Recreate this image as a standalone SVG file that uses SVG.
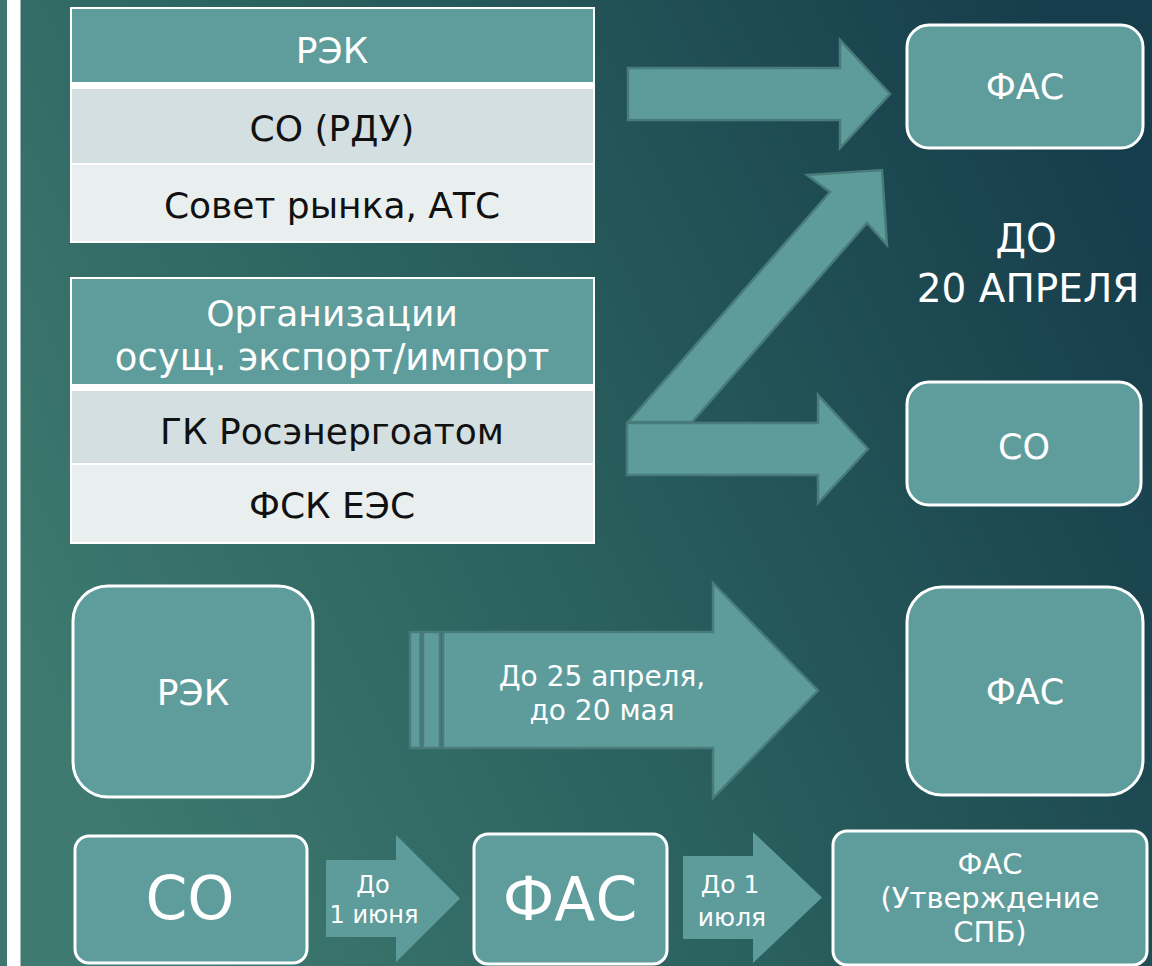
<svg xmlns="http://www.w3.org/2000/svg" width="1152" height="966" viewBox="0 0 1152 966">
<defs>
<linearGradient id="bg" x1="0" y1="0.65" x2="1" y2="0.25">
<stop offset="0" stop-color="#3e7a70"/>
<stop offset="0.45" stop-color="#2a605e"/>
<stop offset="1" stop-color="#163d4b"/>
</linearGradient>
<style>
.t{font-family:"DejaVu Sans","Liberation Sans",sans-serif;text-anchor:middle}
.w{fill:#ffffff}
.k{fill:#111111}
.box{fill:#5f9d9d;stroke:#ffffff;stroke-width:3}
.arr{fill:#5e9c9c;stroke:#4a7b7b;stroke-width:2.5;stroke-linejoin:miter}
.arrs{fill:#5e9c9c}
.hdr{fill:#5f9c9c}
.r2{fill:#d3dfe0}
.r3{fill:#e9efef}
</style>
</defs>
<rect width="1152" height="966" fill="url(#bg)"/>
<rect x="0" y="0" width="7" height="966" fill="#3c766f"/>
<rect x="7" y="0" width="13.5" height="966" fill="#ffffff"/>

<g id="connectors">
<polygon class="arr" points="628,68 840,68 840,40 890,94 840,148 840,120 628,120"/>
<polygon class="arr" points="628,422 830,192 807,175 882,170 887,245 867,223 692,422"/>
<polygon class="arr" points="627,423 818,423 818,395 868,449 818,503 818,475 627,475"/>
<g id="arrow-big">
<rect class="arr" x="410" y="632" width="10.5" height="116"/>
<rect class="arr" x="423" y="632" width="17" height="116"/>
<polygon class="arr" points="443,632 713,632 713,583 818,690.5 713,798 713,748 443,748"/>
<text class="t w" x="602" y="686" font-size="28">До 25 апреля,</text>
<text class="t w" x="602" y="720" font-size="28">до 20 мая</text>
</g>
<g id="arrow-jun">
<polygon class="arrs" points="326,860 396,860 396,835 460,898.5 396,962 396,937 326,937"/>
<text class="t w" x="373" y="893" font-size="24">До</text>
<text class="t w" x="374" y="923" font-size="24">1 июня</text>
</g>
<g id="arrow-jul">
<polygon class="arrs" points="683,856 753,856 753,832 822,897.5 753,963 753,939 683,939"/>
<text class="t w" x="730" y="893" font-size="25">До 1</text>
<text class="t w" x="732" y="926" font-size="25">июля</text>
</g>
</g>

<g id="table1">
<rect x="70" y="7" width="525" height="236" fill="#ffffff"/>
<rect class="hdr" x="72" y="9" width="521" height="73"/>
<rect class="r2" x="72" y="89" width="521" height="74"/>
<rect class="r3" x="72" y="165" width="521" height="76"/>
<text class="t w" x="332" y="63" font-size="36">РЭК</text>
<text class="t k" x="332" y="141" font-size="36">СО (РДУ)</text>
<text class="t k" x="332" y="218" font-size="36">Совет рынка, АТС</text>
</g>

<g id="table2">
<rect x="70" y="277" width="525" height="267" fill="#ffffff"/>
<rect class="hdr" x="72" y="279" width="521" height="105"/>
<rect class="r2" x="72" y="391" width="521" height="72"/>
<rect class="r3" x="72" y="465" width="521" height="77"/>
<text class="t w" x="332" y="326" font-size="36">Организации</text>
<text class="t w" x="332" y="370" font-size="37">осущ. экспорт/импорт</text>
<text class="t k" x="332" y="444" font-size="36">ГК Росэнергоатом</text>
<text class="t k" x="332" y="518" font-size="36">ФСК ЕЭС</text>
</g>

<g id="fas-top">
<rect class="box" x="907" y="25" width="236" height="123" rx="22"/>
<text class="t w" x="1025" y="99" font-size="35">ФАС</text>
</g>

<g id="label-april">
<text class="t w" x="1026" y="252" font-size="39">ДО</text>
<text class="t w" x="1028" y="302" font-size="39">20 АПРЕЛЯ</text>
</g>

<g id="so-mid">
<rect class="box" x="907" y="382" width="234" height="123" rx="22"/>
<text class="t w" x="1024" y="459" font-size="35">СО</text>
</g>

<g id="rek-big">
<rect class="box" x="73" y="586" width="240" height="211" rx="35"/>
<text class="t w" x="193" y="705" font-size="36">РЭК</text>
</g>

<g id="fas-big">
<rect class="box" x="907" y="587" width="236" height="208" rx="35"/>
<text class="t w" x="1025" y="704" font-size="35">ФАС</text>
</g>

<g id="so-bottom">
<rect class="box" x="75" y="836" width="232" height="127" rx="14"/>
<text class="t w" x="190" y="919" font-size="60">СО</text>
</g>

<g id="fas-bottom">
<rect class="box" x="474" y="834" width="193" height="130" rx="14"/>
<text class="t w" x="570" y="920" font-size="60">ФАС</text>
</g>

<g id="fas-spb">
<rect class="box" x="833" y="831" width="314" height="134" rx="14"/>
<text class="t w" x="990" y="874" font-size="29">ФАС</text>
<text class="t w" x="990" y="908" font-size="29">(Утверждение</text>
<text class="t w" x="990" y="942" font-size="29">СПБ)</text>
</g>
</svg>
